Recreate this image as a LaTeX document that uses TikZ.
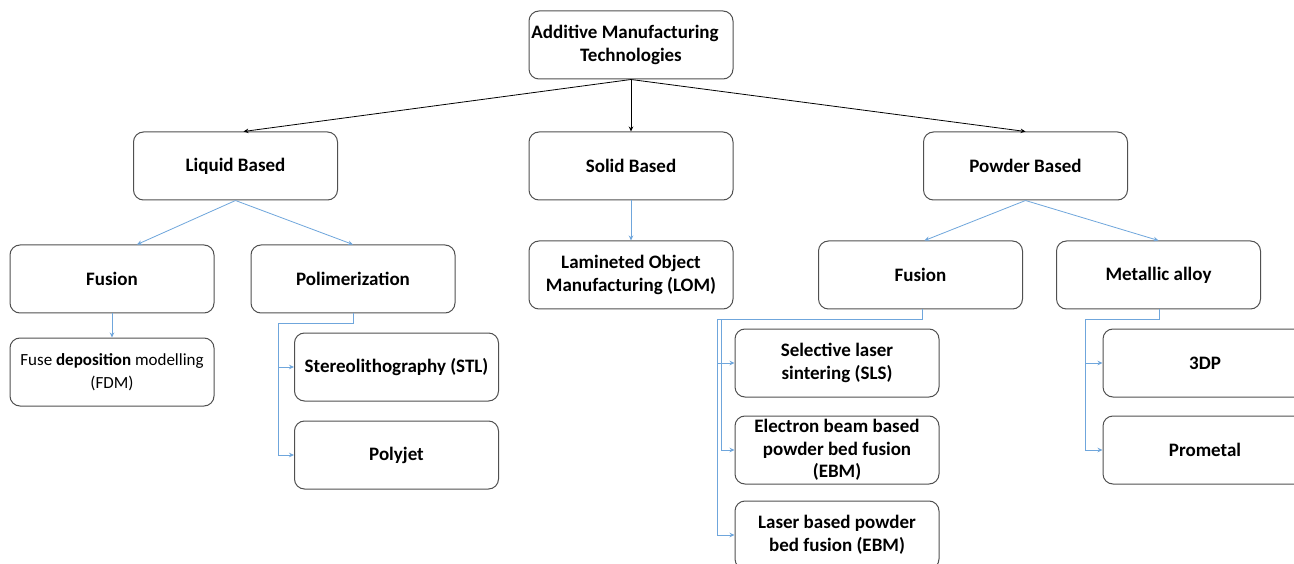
\documentclass[tikz,border=0pt]{standalone}
\usepackage{fontspec}
\setmainfont{Carlito}
\usetikzlibrary{arrows.meta,calc}
\definecolor{boxgray}{HTML}{505050}
\definecolor{linkblue}{HTML}{6FA6DC}
\begin{document}
\begin{tikzpicture}[x=1pt,y=-1pt,
  box/.style={draw=boxgray, line width=1pt, rounded corners=10pt, minimum width=204pt,
    minimum height=68pt, align=center, inner sep=2pt,
    font=\fontsize{19}{22.5}\selectfont\bfseries},
  plainbox/.style={box, font=\fontsize{17}{22.5}\selectfont},
  blackarrow/.style={draw=black, line width=0.8pt, -{Stealth[length=5pt,width=4.5pt]}},
  bluearrow/.style={draw=linkblue, line width=0.8pt, -{Stealth[length=5pt,width=4.5pt]}}]
\useasboundingbox (0,0) rectangle (1294,564);
\clip (0,0) rectangle (1294,564);
\fill[white] (0,0) rectangle (1294,564);

\node[box] (top) at (631,45) {Additive Manufacturing\hspace*{12pt}\\Technologies};
\node[box] (liquid) at (235.5,166) {Liquid Based};
\node[box] (solid) at (631,166) {Solid Based};
\node[box] (powder) at (1025.5,166) {Powder Based};

\node[box] (lfus) at (112,279) {Fusion};
\node[box] (poly) at (353,279) {Polimerization};
\node[box] (lom) at (631,275) {Lamineted Object\\Manufacturing (LOM)};
\node[box] (pfus) at (920.5,275) {Fusion};
\node[box] (metal) at (1158.5,275) {Metallic alloy};

\node[plainbox] (fdm) at (112,372) {Fuse \textbf{deposition} modelling\\(FDM)};
\node[box] (stl) at (396.5,367) {Stereolithography (STL)};
\node[box] (polyjet) at (396.5,455) {Polyjet};

\node[box] (sls) at (837,363) {Selective laser\\sintering (SLS)};
\node[box] (ebm) at (837,450) {Electron beam based\\powder bed fusion\\(EBM)};
\node[box] (laser) at (837,535) {Laser based powder\\bed fusion (EBM)};

\node[box] (tdp) at (1205,363) {3DP};
\node[box] (prom) at (1205,450) {Prometal};

\draw[blackarrow] (top.south) -- ([xshift=8pt]liquid.north);
\draw[blackarrow] (top.south) -- (solid.north);
\draw[blackarrow] (top.south) -- (powder.north);

\draw[bluearrow] (liquid.south) -- ([xshift=25pt]lfus.north);
\draw[bluearrow] (liquid.south) -- (poly.north);
\draw[bluearrow] (solid.south) -- (lom.north);
\draw[bluearrow] (powder.south) -- ([xshift=4pt]pfus.north);
\draw[bluearrow] (powder.south) -- (metal.north);

\draw[bluearrow] (lfus.south) -- (fdm.north);

\draw[bluearrow] (poly.south) -- ++(0,10) -| ([xshift=-16pt]stl.west) -- (stl.west);
\draw[bluearrow] (poly.south) -- ++(0,10) -| ([xshift=-16pt]polyjet.west) -- (polyjet.west);

\draw[bluearrow] ([xshift=2pt]pfus.south) -- ++(0,10) -| ([xshift=-17pt]sls.west) -- (sls.west);
\draw[bluearrow] ([xshift=2pt]pfus.south) -- ++(0,10) -| ([xshift=-13pt]ebm.west) -- (ebm.west);
\draw[bluearrow] ([xshift=2pt]pfus.south) -- ++(0,10) -| ([xshift=-17pt]laser.west) -- (laser.west);

\draw[bluearrow] ([xshift=1pt]metal.south) -- ++(0,10) -| ([xshift=-17pt]tdp.west) -- (tdp.west);
\draw[bluearrow] ([xshift=1pt]metal.south) -- ++(0,10) -| ([xshift=-17pt]prom.west) -- (prom.west);
\end{tikzpicture}
\end{document}
